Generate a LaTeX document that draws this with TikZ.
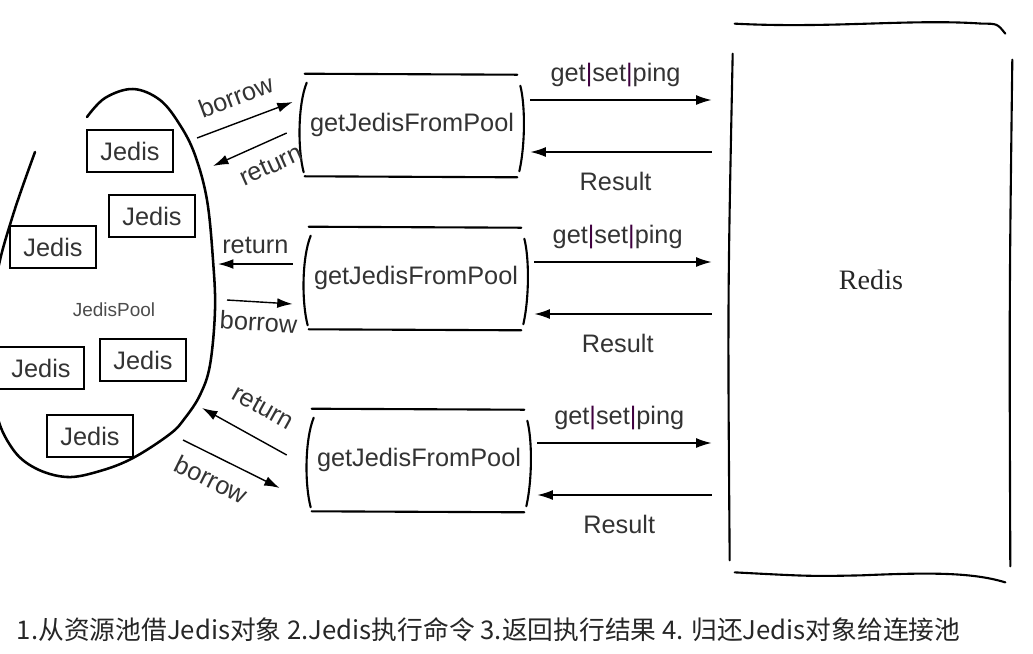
\documentclass[tikz,border=0pt]{standalone}
\usepackage{fontspec}
\setmainfont{Liberation Sans}
\newfontfamily\redisfont{Liberation Serif}
\newfontfamily\cjkfont{Noto Sans CJK SC}
\usetikzlibrary{arrows.meta,calc}
\tikzset{x=0.025cm,y=-0.025cm}
\tikzset{arr/.style={-{Latex[length=11pt,width=7pt]},line width=1pt}}
\tikzset{arrback/.style={{Latex[length=11pt,width=7pt]}-,line width=1pt}}
\tikzset{lbl/.style={font=\fontsize{18}{20}\selectfont,text=black!80,inner sep=2pt}}
\tikzset{jedis/.style={draw,line width=1.5pt,minimum width=2.15cm,minimum height=1.07cm,inner sep=0pt,font=\fontsize{18}{20}\selectfont,text=black!80}}
\tikzset{fetch/.style={minimum width=5.55cm,minimum height=2.55cm,inner sep=0pt,font=\fontsize{18}{20}\selectfont,text=black!80}}
\tikzset{boxline/.style={line width=1.5pt,line cap=round}}
\newcommand{\sketchbox}[1]{%
\draw[boxline] ($(#1.north west)+(4,0)$) -- ($(#1.north east)+(-6,1)$);
\draw[boxline] ($(#1.south west)+(4,0)$) -- ($(#1.south east)+(-6,1)$);
\draw[boxline] ($(#1.north west)+(6,9)$) .. controls ($(#1.west)+(-3,-20)$) and ($(#1.west)+(-3,25)$) .. ($(#1.south west)+(3,-4)$);
\draw[boxline] ($(#1.north east)+(-3,12)$) .. controls ($(#1.east)+(2,-20)$) and ($(#1.east)+(2,20)$) .. ($(#1.south east)+(-4,-5)$);}

\begin{document}
\begin{tikzpicture}
\useasboundingbox (0,0) rectangle (1033,653);
% pool
\draw[line width=1.8pt,line cap=round] plot[smooth,tension=.6] coordinates {(87,117) (105,98) (133,89) (160,100) (180,125) (195,155) (207,200) (213,260) (215,310) (210,365) (200,395) (185,418) (170,434) (133,458) (100,471) (67,477) (35,468) (12,448) (-4,410) (-8,340) (-3,275) (13,215) (35,152)};
\foreach \n/\x/\y in {1/130/151,2/152/216,3/53/247,4/41/368,5/143/360,6/90/436}
  \node[jedis,name=j\n] at (\x,\y) {Jedis};
\node[name=pool,font=\fontsize{13.5}{15}\selectfont,text=black!70] at (114,310) {JedisPool};
% fetch boxes and Redis
\node[fetch,name=gp1] at (412,125) {getJedisFromPool};
\node[fetch,name=gp2] at (416,278) {getJedisFromPool};
\node[fetch,name=gp3] at (419,460) {getJedisFromPool};
\sketchbox{gp1}
\sketchbox{gp2}
\sketchbox{gp3}
\node[name=redis,minimum width=7.05cm,minimum height=13.85cm] at (871,301) {};
\node[name=redistext,font=\redisfont\fontsize{20}{22}\selectfont,text=black!85] at ($(redis.center)+(0,-21)$) {Redis};
\draw[boxline] ($(redis.north west)+(5,0)$) .. controls ($(redis.north)+(-40,5)$) and ($(redis.north)+(40,-5)$) .. ($(redis.north east)+(-30,0)$) .. controls ($(redis.north east)+(-15,0)$) .. ($(redis.north east)+(-7,10)$);
\draw[boxline] ($(redis.south west)+(5,-6)$) .. controls ($(redis.south)+(-60,-2)$) .. ($(redis.south)+(-10,-3)$) .. controls ($(redis.south)+(60,-6)$) and ($(redis.south east)+(-40,-6)$) .. ($(redis.south east)+(-7,4)$);
\draw[boxline] ($(redis.north west)+(3,30)$) .. controls ($(redis.west)+(-2,0)$) .. ($(redis.south west)+(0,-18)$);
\draw[boxline] ($(redis.north east)+(0,36)$) .. controls ($(redis.east)+(-3,0)$) .. ($(redis.south east)+(-2,-12)$);
% commands and results
\foreach \g/\dy in {gp1/0,gp2/9,gp3/8} {
  \draw[arr] ($(\g.east)+(7,-25+\dy)$) -- ($(redis.west |- \g.east)+(-18,-25+\dy)$) node[lbl,pos=.47,above=7pt] {get{\color{violet!50!black}|}set{\color{violet!50!black}|}ping};
  \draw[arr] ($(redis.west |- \g.east)+(-18,27+\dy)$) -- ($(\g.east)+(7,27+\dy)$) node[lbl,pos=.53,below=12pt] {Result};
}
% borrow and return
\coordinate (b1) at (197,138);
\coordinate (r1) at (213,166);
\coordinate (r2) at (218,264);
\coordinate (b2) at (227,300);
\coordinate (r3) at (202,408);
\coordinate (b3) at (183,440);
\draw[arr] (b1) -- ($(gp1.west)+(-8,-23)$) node[lbl,midway,sloped,above=9pt] {borrow};
\draw[arrback] (r1) -- ($(gp1.west)+(-14,8)$) node[lbl,pos=.66,sloped,below=8pt] {return};
\draw[arrback] (r2) -- ($(gp2.west)+(-12,-14)$) node[lbl,midway,above=5pt] {return};
\draw[arr] (b2) -- ($(gp2.west)+(-12,26)$) node[lbl,midway,sloped,below=5pt] {borrow};
\draw[arrback] (r3) -- ($(gp3.west)+(-21,-5)$) node[lbl,pos=.55,sloped,above=13pt] {return};
\draw[arr] (b3) -- ($(gp3.west)+(-28,28)$) node[lbl,pos=.4,sloped,below=7pt] {borrow};
% caption
\node[name=cap,anchor=west,font=\cjkfont\fontsize{18.3}{20}\selectfont,text=black!85] at (12,630) {1.从资源池借Jedis对象 2.Jedis执行命令 3.返回执行结果 4. 归还Jedis对象给连接池};
\end{tikzpicture}
\end{document}
